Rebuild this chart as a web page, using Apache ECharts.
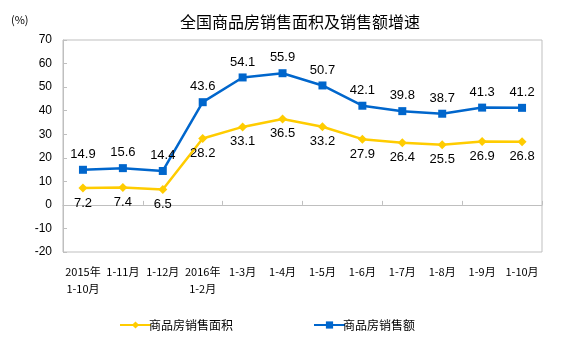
<!DOCTYPE html>
<html>
<head>
<meta charset="utf-8">
<script src="https://cdn.jsdelivr.net/npm/echarts@6/dist/echarts.min.js"></script>
<style>html,body{margin:0;padding:0;background:#fff}#c{width:562px;height:338px}</style>
</head>
<body>
<div id="c"></div>
<script>
var categories = ['2015年\n1-10月','1-11月','1-12月','2016年\n1-2月','1-3月','1-4月','1-5月','1-6月','1-7月','1-8月','1-9月','1-10月'];
var areaGrowth = [7.2,7.4,6.5,28.2,33.1,36.5,33.2,27.9,26.4,25.5,26.9,26.8];
var amountGrowth = [14.9,15.6,14.4,43.6,54.1,55.9,50.7,42.1,39.8,38.7,41.3,41.2];
var seriesNames = ['商品房销售面积','商品房销售额'];
var titleText = '全国商品房销售面积及销售额增速';
var unitText = '(%)';

var chart = echarts.init(document.getElementById('c'));
var fontFam = '"Liberation Sans", Arial, "Noto Sans CJK SC", sans-serif';
chart.setOption({
  animation: false,
  textStyle: {fontFamily: fontFam},
  title: [
    {text: titleText, left: 295, top: 9, textAlign: 'center',
     textStyle: {fontSize: 16, fontWeight: 'normal', color: '#000', fontFamily: '"Noto Sans CJK SC", sans-serif'}},
    {text: unitText, left: 6, top: 9,
     textStyle: {fontSize: 11, fontWeight: 'normal', color: '#000', fontFamily: '"Noto Sans CJK SC", sans-serif'}}
  ],
  legend: {
    bottom: 2, left: 114, itemGap: 80, itemWidth: 31, itemHeight: 9,
    textStyle: {fontSize: 12, color: '#000', padding: [0, 0, 0, -7], fontFamily: '"Noto Sans CJK SC", sans-serif'},
    data: [seriesNames[0], seriesNames[1]]
  },
  grid: {left: 63, right: 20, top: 40, bottom: 86, show: true, borderColor: '#bfbfbf', borderWidth: 1},
  xAxis: [
    {type: 'category', data: categories, position: 'bottom', boundaryGap: true,
     axisLine: {onZero: false, show: false}, axisTick: {show: false},
     axisLabel: {interval: 0, fontSize: 11, color: '#000', margin: 11, lineHeight: 17,
       fontFamily: '"Noto Sans CJK SC", sans-serif'}},
    {type: 'category', data: categories, position: 'bottom', boundaryGap: true,
     axisLine: {onZero: true, lineStyle: {color: '#bfbfbf'}},
     axisTick: {show: true, inside: true, length: 4, lineStyle: {color: '#bfbfbf'}},
     axisLabel: {show: false}}
  ],
  yAxis: {
    type: 'value', min: -20, max: 70, interval: 10,
    axisLine: {show: true, lineStyle: {color: '#bfbfbf'}},
    axisTick: {show: true, inside: true, length: 4, lineStyle: {color: '#bfbfbf'}},
    splitLine: {show: false},
    axisLabel: {fontSize: 12, color: '#000', margin: 11}
  },
  series: [
    {name: seriesNames[0], type: 'line', data: areaGrowth, xAxisIndex: 0,
     symbol: 'diamond', symbolSize: 9,
     itemStyle: {color: '#FFCC00'}, lineStyle: {width: 2.5, color: '#FFCC00'},
     label: {show: true, position: 'bottom', distance: 4, fontSize: 13, color: '#000'}},
    {name: seriesNames[1], type: 'line', data: amountGrowth, xAxisIndex: 0,
     symbol: 'rect', symbolSize: 8,
     itemStyle: {color: '#0066CC'}, lineStyle: {width: 2.5, color: '#0066CC'},
     label: {show: true, position: 'top', distance: 5, fontSize: 13, color: '#000'}}
  ]
});
</script>
</body>
</html>
